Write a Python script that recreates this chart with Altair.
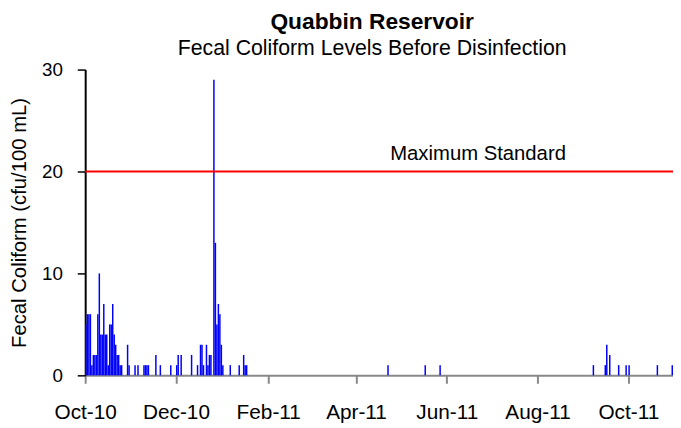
import altair as alt
import pandas as pd

# Sample dates with detected fecal coliform (cfu/100 mL); other days were zero
dates = [
    "2010-10-01", "2010-10-02", "2010-10-03", "2010-10-04", "2010-10-05",
    "2010-10-06", "2010-10-07", "2010-10-08", "2010-10-09", "2010-10-10",
    "2010-10-11", "2010-10-12", "2010-10-13", "2010-10-14", "2010-10-15",
    "2010-10-16", "2010-10-17", "2010-10-18", "2010-10-19", "2010-10-20",
    "2010-10-21", "2010-10-22", "2010-10-23", "2010-10-24", "2010-10-25",
    "2010-10-29", "2010-10-30",
    "2010-11-03", "2010-11-05", "2010-11-09", "2010-11-10", "2010-11-11",
    "2010-11-12", "2010-11-17", "2010-11-20", "2010-11-27",
    "2010-12-01", "2010-12-02", "2010-12-04", "2010-12-11", "2010-12-15",
    "2010-12-17", "2010-12-18", "2010-12-19", "2010-12-21", "2010-12-22",
    "2010-12-23", "2010-12-24", "2010-12-26", "2010-12-27", "2010-12-28",
    "2010-12-29", "2010-12-30", "2010-12-31",
    "2011-01-01", "2011-01-06", "2011-01-12", "2011-01-15", "2011-01-16",
    "2011-01-17",
    "2011-04-22", "2011-05-17", "2011-05-27",
    "2011-09-07", "2011-09-15", "2011-09-16", "2011-09-18", "2011-09-24",
    "2011-09-29", "2011-10-01", "2011-10-20", "2011-10-30",
]
values = [
    5, 6, 6, 6, 1,
    2, 2, 2, 6, 10,
    4, 4, 7, 4, 4,
    1, 5, 5, 7, 4,
    3, 2, 2, 1, 1,
    3, 1,
    1, 1, 1, 1, 1,
    1, 2, 1, 1,
    1, 2, 2, 2, 1,
    3, 3, 1, 3, 1,
    2, 2, 29, 13, 5,
    7, 6, 3,
    1, 1, 1, 2, 1,
    1,
    1, 1, 1,
    1, 1, 3, 2, 1,
    1, 1, 1, 1,
]
x_tick_dates = ["2010-10-01", "2010-12-01", "2011-02-01", "2011-04-01",
                "2011-06-01", "2011-08-01", "2011-10-01"]
y_ticks = [0, 10, 20, 30]
standard_value = [20]
standard_label = ["Maximum Standard"]
standard_label_date = ["2011-06-22"]

FONT = "Liberation Sans"

df = pd.DataFrame({"date": pd.to_datetime(dates), "value": values})
df["end"] = df["date"] + pd.Timedelta(days=1)
df["base"] = 0


def dt(s):
    t = pd.Timestamp(s)
    return alt.DateTime(year=t.year, month=t.month, date=t.day)


x_scale = alt.Scale(domain=[dt("2010-10-01"), dt("2011-10-31")], nice=False)
y_scale = alt.Scale(domain=[0, 30], nice=False)

x_axis = alt.Axis(
    values=[dt(s) for s in x_tick_dates], format="%b-%y", title=None,
    grid=False, domainColor="#888888", domainWidth=2, tickColor="#888888",
    tickWidth=2, tickSize=8, labelPadding=19, labelFont=FONT, labelFontSize=21,
    labelColor="black", labelFlush=False, labelOverlap=False,
)
y_axis = alt.Axis(
    values=y_ticks, title="Fecal Coliform (cfu/100 mL)", grid=False,
    domainColor="black", domainWidth=2, tickColor="black", tickWidth=1.5,
    tickSize=8, labelPadding=15, labelFont=FONT, labelFontSize=19,
    labelColor="black", titleFont=FONT, titleFontSize=20.5,
    titleFontWeight="normal", titleColor="black", titlePadding=12,
)

bars = alt.Chart(df).mark_bar(color="#0000FF").encode(
    x=alt.X("date:T", scale=x_scale, axis=x_axis),
    x2="end:T",
    y=alt.Y("value:Q", scale=y_scale, axis=y_axis),
    y2="base:Q",
)

std_df = pd.DataFrame({"y": standard_value})
rule = alt.Chart(std_df).mark_rule(color="#FF0000", strokeWidth=2).encode(
    y=alt.Y("y:Q", scale=y_scale)
)

lab_df = pd.DataFrame({
    "x": pd.to_datetime(standard_label_date),
    "y": standard_value,
    "label": standard_label,
})
label = alt.Chart(lab_df).mark_text(
    font=FONT, fontSize=20.5, color="black", baseline="alphabetic", dy=-12,
    align="center",
).encode(
    x=alt.X("x:T", scale=x_scale),
    y=alt.Y("y:Q", scale=y_scale),
    text="label:N",
)

chart = alt.layer(bars, rule, label).properties(
    width=594,
    height=309,
    autosize=alt.AutoSizeParams(type="none"),
    padding={"left": 78, "top": 60, "right": 0, "bottom": 52},
    title=alt.TitleParams(
        text="Quabbin Reservoir",
        subtitle="Fecal Coliform Levels Before Disinfection",
        font=FONT, fontSize=23, fontWeight="bold", color="black",
        subtitleFont=FONT, subtitleFontSize=21.5, subtitleColor="black",
        anchor="middle", frame="group", offset=1, dx=-7, subtitlePadding=5,
    ),
).configure_view(stroke=None)

chart.save("out.html", embed_options={"renderer": "svg", "actions": False})
